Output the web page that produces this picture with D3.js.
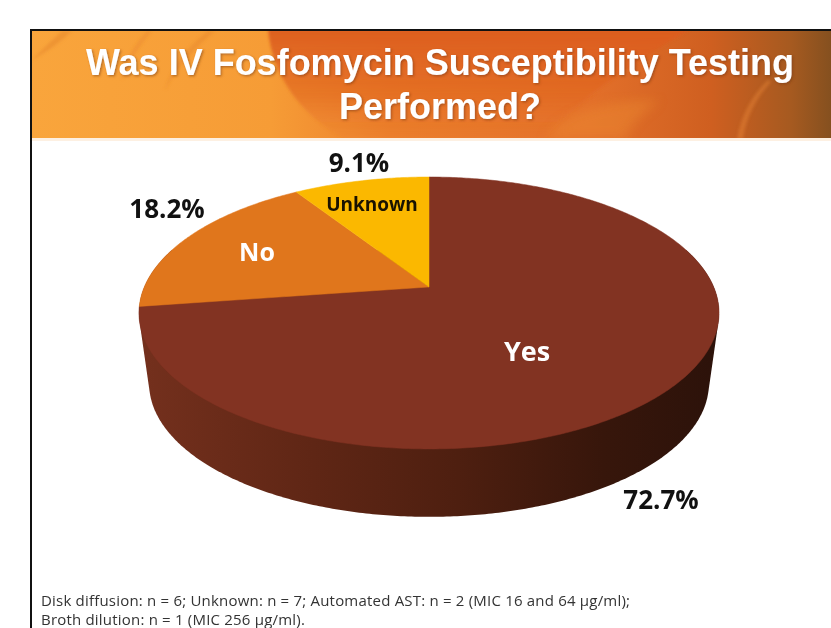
<!DOCTYPE html>
<html><head><meta charset="utf-8">
<script src="https://cdn.jsdelivr.net/npm/d3@7/dist/d3.min.js"></script>
<style>html,body{margin:0;padding:0;background:#fff}svg{display:block}</style>
</head><body><svg id="c" width="831" height="628"></svg>
<script>
const categories = ["Yes","No","Unknown"];
const values = [72.7,18.2,9.1];
const percentLabels = ["72.7%","18.2%","9.1%"];
const sliceColors = ["#823322","#e0761c","#fbb800"];
const titleLines = ["Was IV Fosfomycin Susceptibility Testing","Performed?"];
const footnotes = ["Disk diffusion: n = 6; Unknown: n = 7; Automated AST: n = 2 (MIC 16 and 64 µg/ml);","Broth dilution: n = 1 (MIC 256 µg/ml)."];

const svg = d3.select("#c");
const defs = svg.append("defs");

// ---- frame & header
const hg = defs.append("linearGradient").attr("id","hg");
[[0,"#f9a53c"],[.3,"#f69c36"],[.45,"#ec802c"],[.7,"#e3702a"],[.85,"#cf5f20"],[.95,"#a65a20"],[1,"#85501f"]]
  .forEach(d=>hg.append("stop").attr("offset",d[0]).attr("stop-color",d[1]));
const dg = defs.append("linearGradient").attr("id","dg").attr("x1",0).attr("x2",0).attr("y1",0).attr("y2",1);
dg.append("stop").attr("offset",0).attr("stop-color","#db5c20").attr("stop-opacity",.95);
dg.append("stop").attr("offset",.6).attr("stop-color","#e0651f").attr("stop-opacity",.6);
dg.append("stop").attr("offset",1).attr("stop-color","#e8752a").attr("stop-opacity",.1);
const addBlur=(id,sd)=>defs.append("filter").attr("id",id).attr("x","-20%").attr("y","-20%").attr("width","140%").attr("height","140%")
  .append("feGaussianBlur").attr("stdDeviation",sd);
addBlur("soft",1.5); addBlur("softer",6);
const ts = defs.append("filter").attr("id","tshadow").attr("x","-5%").attr("y","-20%").attr("width","110%").attr("height","140%");
ts.append("feDropShadow").attr("dx",1.2).attr("dy",1.2).attr("stdDeviation",1.2).attr("flood-color","#6a3208").attr("flood-opacity",.5);
defs.append("clipPath").attr("id","hc").append("rect").attr("x",31).attr("y",31).attr("width",800).attr("height",107);

const head = svg.append("g").attr("clip-path","url(#hc)");
head.append("rect").attr("x",31).attr("y",31).attr("width",800).attr("height",107).attr("fill","url(#hg)");
const deco = head.append("g").attr("filter","url(#soft)");
deco.append("path").attr("d","M268 29 C272 75 300 115 345 139 L545 139 C575 100 640 60 690 29 Z").attr("fill","url(#dg)");
deco.append("path").attr("d","M32 60 C50 50 60 42 72 31 L62 31 C50 42 42 50 32 60Z").attr("fill","#e88a2e").attr("opacity",.6);
deco.append("path").attr("d","M122 80 C130 60 140 45 152 31 L147 31 C134 45 125 60 122 80Z").attr("fill","#e8872c").attr("opacity",.45);
deco.append("path").attr("d","M165 90 C178 65 198 45 215 31 L208 31 C190 45 172 65 165 90Z").attr("fill","#e8872c").attr("opacity",.5);
deco.append("path").attr("d","M737 139 C741 115 752 95 768 80 L771 82 C756 98 746 118 743 139Z").attr("fill","#ee8a3a").attr("opacity",.4);
head.append("path").attr("d","M545 139 C565 112 600 100 660 100 C640 115 630 125 625 139Z").attr("fill","#ec8a30").attr("opacity",.45).attr("filter","url(#softer)");
svg.append("rect").attr("x",31).attr("y",138).attr("width",800).attr("height",3).attr("fill","#fdf0e2");

svg.append("rect").attr("x",30).attr("y",29).attr("width",801).attr("height",2).attr("fill","#111");
svg.append("rect").attr("x",30).attr("y",29).attr("width",2).attr("height",599).attr("fill","#111");

svg.append("g").attr("font-family","'Liberation Sans',Arial,sans-serif").attr("font-weight",700)
  .attr("font-size",36).attr("fill","#fff").attr("text-anchor","middle").attr("filter","url(#tshadow)")
  .selectAll("text").data(titleLines).join("text")
  .attr("x",440).attr("y",(d,i)=>75+i*44).text(d=>d);

// ---- perspective pie
const pie = d3.pie().sort(null).value(d=>d)(values);
const cx=429, apexY=287, Rx=284.7, Sy=131, k=0.191;
const scaleX = d3.scaleLinear().domain([-1,1]).range([cx-Rx,cx+Rx]);
function project(a,sx,sy,y0){ // a: clockwise from top
  const s=Math.sin(a),c=Math.cos(a),w=1+k*c;
  return [scaleX(s*sx/w), y0-Sy*sy*c/w];
}
const topRim=a=>project(a,1,1,apexY);
const botRim=a=>project(a,0.965,0.981,358);
const line=d3.line();
const N=360;
// wall
const wg = defs.append("linearGradient").attr("id","wg").attr("gradientUnits","userSpaceOnUse")
  .attr("x1",139).attr("x2",719).attr("y1",0).attr("y2",0);
[[0,"#74301d"],[.3,"#5f2615"],[.55,"#4e1f10"],[.8,"#37160b"],[1,"#2c120a"]]
  .forEach(d=>wg.append("stop").attr("offset",d[0]).attr("stop-color",d[1]));
const a0=Math.PI/2-0.3, a1=3*Math.PI/2+0.3;
const wallAngles=d3.range(0,N+1).map(i=>a0+(a1-a0)*i/N);
const wallPts=[...wallAngles.map(topRim),...wallAngles.slice().reverse().map(botRim)];
svg.append("path").attr("d",line(d3.polygonHull(wallPts))+"Z").attr("fill","url(#wg)");
// top surface
const slices=svg.append("g");
pie.forEach((p,i)=>{
  const pts=[[cx,apexY]];
  const n=Math.max(8,Math.round((p.endAngle-p.startAngle)*90));
  for(let j=0;j<=n;j++)pts.push(topRim(p.startAngle+(p.endAngle-p.startAngle)*j/n));
  slices.append("path").attr("d",line(pts)+"Z").attr("fill",sliceColors[i]).attr("stroke",sliceColors[i]).attr("stroke-width",.5);
});

// ---- labels
const catPos=[[527,351,27,"#fff"],[257,252,25,"#fff"],[372,204,19,"#1a1200"]];
const pctPos=[[661,500],[167,209],[359,163]];
const lab=svg.append("g").attr("font-family","'Open Sans',sans-serif").attr("font-weight",700).attr("text-anchor","middle");
lab.selectAll(".cat").data(categories).join("text").attr("class","cat")
  .attr("x",(d,i)=>catPos[i][0]).attr("y",(d,i)=>catPos[i][1]+catPos[i][2]*.36)
  .attr("font-size",(d,i)=>catPos[i][2]).attr("fill",(d,i)=>catPos[i][3]).text(d=>d);
lab.selectAll(".pct").data(percentLabels).join("text").attr("class","pct")
  .attr("x",(d,i)=>pctPos[i][0]).attr("y",(d,i)=>pctPos[i][1]+9)
  .attr("font-size",26).attr("fill","#111").text(d=>d);

svg.append("g").attr("font-family","'Open Sans',sans-serif").attr("font-size",15).attr("letter-spacing",.2).attr("fill","#333")
  .selectAll("text").data(footnotes).join("text")
  .attr("x",41).attr("y",(d,i)=>606+i*19).text(d=>d);
</script></body></html>
